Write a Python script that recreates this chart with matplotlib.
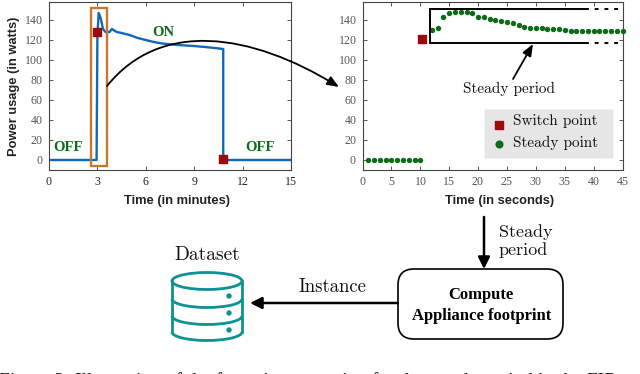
#!/usr/bin/env python3
"""Appliance footprint figure: power trace, steady period zoom and flow below."""

import matplotlib
matplotlib.use('Agg')
import matplotlib.pyplot as plt
from matplotlib.patches import Rectangle, FancyBboxPatch, FancyArrowPatch, Ellipse, Arc, Circle
from matplotlib.path import Path

# Full power trace (minutes, watts)
trace_time = [0, 2.95, 3.0, 3.08, 3.2, 3.35, 3.5, 3.75, 3.9, 4.2, 4.5, 5, 5.5, 6, 6.5, 7, 8, 9, 10, 10.8, 10.8, 15]
trace_power = [0, 0, 125, 147, 142, 131, 128, 128, 131, 128, 127, 125, 122, 120, 118, 116.5, 115, 114, 112.5, 111, 0, 0]
switch_time = [3.0, 10.8]
switch_power = [128, 1]

# Zoomed view (seconds, watts)
steady_sec = list(range(1, 11)) + list(range(12, 46))
steady_power = [0] * 10 + [130, 132, 143, 147, 147.5, 148, 148, 147, 143, 142.5, 141, 140, 138.5, 137.5,
                           136.5, 135, 133, 132, 131.5, 131.5, 131, 131, 130.5, 130, 129, 128.5, 128.5,
                           128.5, 128.5, 128.5, 128.5, 128.5, 128.5, 128.5]
zoom_switch_sec = [10.3]
zoom_switch_power = [121]

y_ticks = [0, 20, 40, 60, 80, 100, 120, 140]
x_ticks_min = [0, 3, 6, 9, 12, 15]
x_ticks_sec = [0, 5, 10, 15, 20, 25, 30, 35, 40, 45]

W, H = 640, 374
GREEN = '#0b6b16'
RED = '#9c0a0a'
BLUE = '#1268b8'
ORANGE = '#c8782a'
TEAL = '#0e9196'
SERIF = 'cmr10'
plt.rcParams['axes.formatter.use_mathtext'] = True
plt.rcParams['axes.unicode_minus'] = False


def add_axes_px(fig, left, top, right, bottom):
    return fig.add_axes([left / W, 1 - bottom / H, (right - left) / W, (bottom - top) / H])


def style_axes(ax, xticks, xlabel, label_x):
    ax.set_ylim(-10.5, 158)
    ax.set_yticks(y_ticks)
    ax.set_xticks(xticks)
    ax.tick_params(direction='in', length=3, width=0.7, colors='#555555', top=True, right=True, pad=4)
    for lab in ax.get_xticklabels() + ax.get_yticklabels():
        lab.set_family('Liberation Serif')
        lab.set_fontsize(8.5)
    for sp in ax.spines.values():
        sp.set_color('#444444')
        sp.set_linewidth(0.8)
    ax.set_xlabel(xlabel, family='Liberation Sans', fontsize=9.3, fontweight='bold', color='#222222', labelpad=5, x=label_x)


fig = plt.figure(figsize=(W / 100, H / 100), dpi=100)

# left panel
ax1 = add_axes_px(fig, 49, 2, 291, 170.5)
ax1.set_xlim(0, 15)
style_axes(ax1, x_ticks_min, 'Time (in minutes)', 0.53)
ax1.set_ylabel('Power usage (in watts)', family='Liberation Sans', fontsize=9.3, fontweight='bold', color='#222222', labelpad=3)
for lab in ax1.get_xticklabels():
    lab.set_color('#222222')
ax1.plot(trace_time, trace_power, color=BLUE, lw=1.7, solid_joinstyle='round')
ax1.scatter(switch_time, switch_power, marker='s', s=34, color=RED, zorder=3)
for x, y, s in [(1.15, 12, 'OFF'), (7.1, 127, 'ON'), (13.05, 12, 'OFF')]:
    ax1.text(x, y, s, color=GREEN, fontsize=10.5, fontweight='bold', family='Liberation Serif', ha='center', va='center')

# right panel
ax2 = add_axes_px(fig, 362.5, 2, 622.5, 170.5)
ax2.set_xlim(0, 45)
style_axes(ax2, x_ticks_sec, 'Time (in seconds)', 0.527)
ax2.scatter(steady_sec, steady_power, s=15, color=GREEN, zorder=3, clip_on=False, linewidths=0)
ax2.scatter(zoom_switch_sec, zoom_switch_power, marker='s', s=34, color=RED, zorder=3)

# overlay in pixel coordinates for the annotations and the flow part
ov = fig.add_axes([0, 0, 1, 1], zorder=5)
ov.set_xlim(0, W)
ov.set_ylim(H, 0)
ov.axis('off')
ov.patch.set_alpha(0)

ov.add_patch(Rectangle((91, 8), 16, 158, fill=False, ec=ORANGE, lw=1.7))

# curved arrow between the panels
curve = Path([(107, 86), (160, 20), (250, 32), (339, 87)], [Path.MOVETO, Path.CURVE4, Path.CURVE4, Path.CURVE4])
ov.add_patch(FancyArrowPatch(path=curve, arrowstyle='-|>,head_length=7,head_width=2.8', color='black', lw=1.3, shrinkA=0, shrinkB=0))

# steady period bracket
ov.plot([585, 430, 430, 585], [9, 9, 43, 43], color='black', lw=1.4, solid_joinstyle='miter')
for yy in (9, 43):
    ov.plot([585, 619], [yy, yy], color='black', lw=1.4, dashes=(2, 3))
ov.add_patch(FancyArrowPatch((513, 79), (533, 44), arrowstyle='-|>,head_length=7,head_width=2.8', color='black', lw=1.3, shrinkA=0, shrinkB=0))
ov.text(509, 89, 'Steady period', family=SERIF, fontsize=11, ha='center', va='center', color='#111111')

# legend block
ov.add_patch(Rectangle((484, 109), 129, 49, fc='#e6e6e6', ec='#f4f4f4', lw=0.8, ls=':'))
ov.scatter([498.7], [124.7], marker='s', s=34, color=RED)
ov.scatter([498.7], [144], marker='o', s=34, color=GREEN, linewidths=0)
ov.text(513, 121, 'Switch point', family=SERIF, fontsize=11, va='center', color='#111111')
ov.text(513, 143, 'Steady point', family=SERIF, fontsize=11, va='center', color='#111111')

# flow part
ov.add_patch(FancyBboxPatch((410, 281), 141, 46, boxstyle='round,pad=12,rounding_size=16', fc='white', ec='black', lw=1.2))
ov.text(481, 295, 'Compute', family='Liberation Serif', fontweight='bold', fontsize=12, ha='center', va='center')
ov.text(482, 316, 'Appliance footprint', family='Liberation Serif', fontweight='bold', fontsize=12, ha='center', va='center')
ov.add_patch(FancyArrowPatch((484, 217), (484, 269), arrowstyle='-|>,head_length=7,head_width=3.5', color='black', lw=1.8, shrinkA=0, shrinkB=0))
ov.text(499, 232, 'Steady', family=SERIF, fontsize=13, va='center', color='#111111')
ov.text(499, 250, 'period', family=SERIF, fontsize=13, va='center', color='#111111')
ov.add_patch(FancyArrowPatch((398, 303), (250, 303), arrowstyle='-|>,head_length=7,head_width=3.5', color='black', lw=1.8, shrinkA=0, shrinkB=0))
ov.text(332, 287, 'Instance', family=SERIF, fontsize=13.5, ha='center', va='center', color='#111111')
ov.text(207, 255, 'Dataset', family=SERIF, fontsize=14, ha='center', va='center', color='#111111')

# database icon
ov.add_patch(Ellipse((207, 281), 70, 17, fill=False, ec=TEAL, lw=2))
for yy in (299, 316, 332):
    ov.add_patch(Arc((207, yy), 70, 17, theta1=0, theta2=180, ec=TEAL, lw=2))
ov.plot([172, 172], [281, 332], color=TEAL, lw=2)
ov.plot([242, 242], [281, 332], color=TEAL, lw=2)
for yy in (296, 313, 330):
    ov.add_patch(Circle((229, yy), 2.7, fc=TEAL, ec='none'))

# caption, cut off by the bottom edge of the picture
ov.text(-1, 372.6, 'Figure 2:', family='Liberation Serif', fontsize=14, va='top', color='#111111', clip_on=False)
ov.text(75, 372.6, 'Illustration of the footprint extraction for the steady period in the FIR',
        family='Liberation Serif', fontsize=14, va='top', color='#111111', clip_on=False)

fig.savefig('out.png', dpi=100)
